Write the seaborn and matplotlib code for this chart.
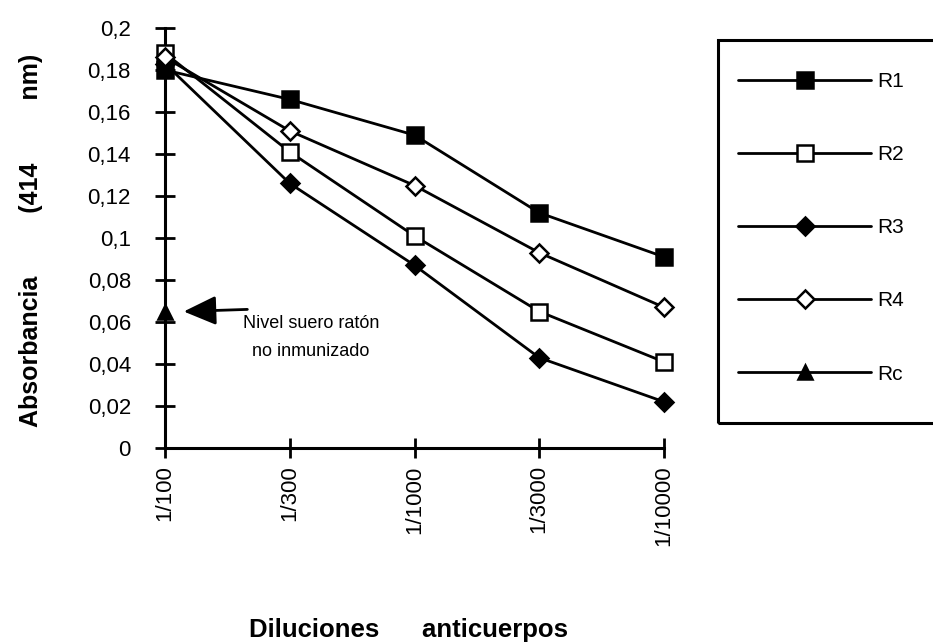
import matplotlib
matplotlib.use("Agg")
import matplotlib.pyplot as plt
import seaborn as sns
import pandas as pd
from matplotlib.patches import Rectangle

sns.set_style("white")
plt.rcParams['font.family'] = ['Liberation Sans', 'DejaVu Sans']
plt.rcParams.update({"text.color": "black", "axes.labelcolor": "black",
                     "xtick.color": "black", "ytick.color": "black"})

diluciones = ["1/100", "1/300", "1/1000", "1/3000", "1/10000"]
R1 = [0.180, 0.166, 0.149, 0.112, 0.091]
R2 = [0.188, 0.141, 0.101, 0.065, 0.041]
R3 = [0.183, 0.126, 0.087, 0.043, 0.022]
R4 = [0.186, 0.151, 0.125, 0.093, 0.067]
Rc_dil = ["1/100"]
Rc = [0.065]
yticks = [0, 0.02, 0.04, 0.06, 0.08, 0.1, 0.12, 0.14, 0.16, 0.18, 0.2]
ytick_labels = ["0", "0,02", "0,04", "0,06", "0,08", "0,1", "0,12", "0,14", "0,16", "0,18", "0,2"]

W, H = 933, 644
fig = plt.figure(figsize=(W / 100, H / 100), dpi=100)
ax = fig.add_axes([165 / W, 1 - 448 / H, (664 - 165) / W, (448 - 28) / H])

series = [
    ("R1", diluciones, R1, "s", "black"),
    ("R2", diluciones, R2, "s", "white"),
    ("R3", diluciones, R3, "D", "black"),
    ("R4", diluciones, R4, "D", "white"),
    ("Rc", Rc_dil, Rc, "^", "black"),
]
sizes = {"s": 11, "D": 9.5, "^": 10}
for name, xs, ys, mk, fc in series:
    df = pd.DataFrame({"x": xs, "y": ys})
    sns.lineplot(data=df, x="x", y="y", ax=ax, color="black", lw=2,
                 marker=mk, markersize=sizes[mk], markerfacecolor=fc,
                 markeredgecolor="black", markeredgewidth=1.8,
                 label=name, clip_on=False, zorder=3)

ax.set_xlim(0, 4)
ax.set_ylim(0, 0.2)
ax.set_yticks(yticks)
ax.set_yticklabels(ytick_labels)
ax.set_xticks(range(len(diluciones)))
ax.set_xticklabels(diluciones, rotation=90)
for s in ["top", "right"]:
    ax.spines[s].set_visible(False)
for s in ["left", "bottom"]:
    ax.spines[s].set_linewidth(2.2)
    ax.spines[s].set_color("black")
ax.tick_params(axis="both", direction="inout", length=15, width=2, color="black",
               labelsize=16, labelcolor="black", bottom=True, left=True)
ax.tick_params(axis="y", pad=17)
ax.tick_params(axis="x", pad=5)
ax.set_xlabel("Diluciones      anticuerpos", fontsize=18.5, fontweight="bold", va="top")
ax.xaxis.set_label_coords(0.487, -0.405)
ax.set_ylabel("Absorbancia         (414         nm)", fontsize=18, fontweight="bold")
ax.yaxis.set_label_coords(-0.2445, 0.495)
ax.grid(False)

# annotation
ax.annotate("", xy=(0.15, 0.065), xytext=(0.66, 0.066),
            arrowprops=dict(arrowstyle="-|>,head_length=1.0,head_width=0.45",
                            mutation_scale=20, lw=2, color="black",
                            shrinkA=0, shrinkB=0))
ax.text(1.17, 0.0524, "Nivel suero ratón\nno inmunizado", ha="center", va="center",
        fontsize=13, linespacing=1.85, color="black")

# legend
handles, labels = ax.get_legend_handles_labels()
ax.get_legend().remove()
fig.legend(handles, labels, loc="upper left", bbox_to_anchor=(738 / W, 1 - 72 / H),
           frameon=False, handlelength=6.4, handletextpad=0.3, labelspacing=2.6,
           fontsize=15, numpoints=1, markerscale=1.0, borderaxespad=0, borderpad=0)
fig.patches.append(Rectangle((718 / W, 1 - 423 / H), (950 - 718) / W, (423 - 40) / H,
                             transform=fig.transFigure, fill=False, lw=2.2,
                             edgecolor="black", clip_on=False))

fig.savefig("out.png", dpi=100)
